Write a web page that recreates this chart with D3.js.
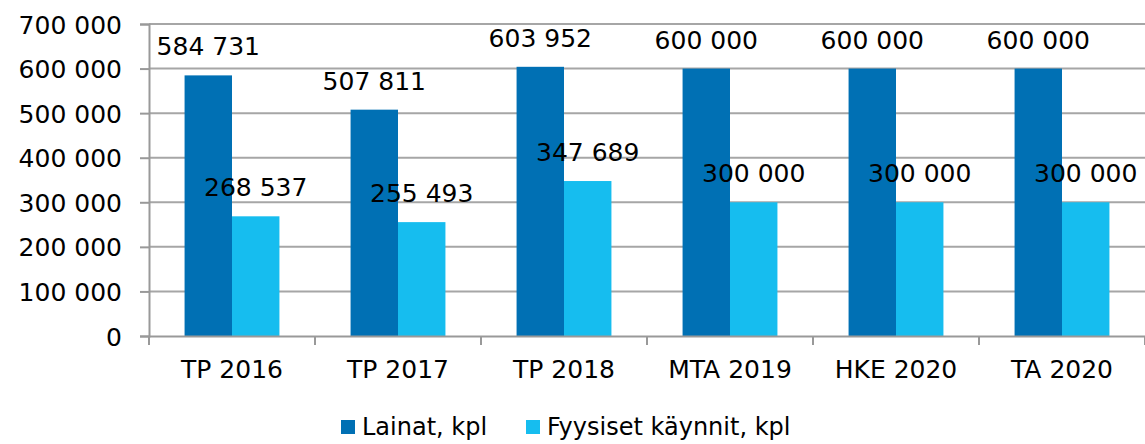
<!DOCTYPE html>
<html>
<head>
<meta charset="utf-8">
<script src="https://cdn.jsdelivr.net/npm/d3@7"></script>
<style>
  body { margin: 0; background: #fff; }
  svg text { font-family: "DejaVu Sans", sans-serif; fill: #000; }
</style>
</head>
<body>
<svg id="chart" width="1145" height="444"></svg>
<script>
const categories = ["TP 2016", "TP 2017", "TP 2018", "MTA 2019", "HKE 2020", "TA 2020"];
const seriesNames = ["Lainat, kpl", "Fyysiset käynnit, kpl"];
const lainat = [584731, 507811, 603952, 600000, 600000, 600000];
const kaynnit = [268537, 255493, 347689, 300000, 300000, 300000];
const yTicks = [0, 100000, 200000, 300000, 400000, 500000, 600000, 700000];
const colors = ["#0070b4", "#16bdef"];

const fmt = v => d3.format(",")(v).replace(/,/g, " ");

const svg = d3.select("#chart");
const plotLeft = 149, plotRight = 1145, plotTop = 24, plotBottom = 336;

const x = d3.scaleBand().domain(categories).range([plotLeft, plotRight]).paddingInner(0).paddingOuter(0);
const x1 = d3.scaleBand().domain(seriesNames).range([0, x.bandwidth()]).paddingInner(0).paddingOuter(0.75);
const y = d3.scaleLinear().domain([0, 700000]).range([plotBottom, plotTop]);

// gridlines
svg.append("g")
  .selectAll("line")
  .data(yTicks.slice(1))
  .enter()
  .append("line")
  .attr("x1", plotLeft)
  .attr("x2", plotRight)
  .attr("y1", d => y(d))
  .attr("y2", d => y(d))
  .attr("stroke", "#a6a6a6")
  .attr("stroke-width", 2);

// y axis
const yAxis = svg.append("g")
  .attr("transform", `translate(${plotLeft},0)`)
  .call(d3.axisLeft(y).tickValues(yTicks).tickFormat(fmt).tickSize(9).tickPadding(18));
yAxis.select(".domain").attr("stroke", "#999").attr("stroke-width", 2);
yAxis.selectAll(".tick line").attr("stroke", "#999").attr("stroke-width", 2);
yAxis.selectAll("text").attr("font-size", "25px").attr("font-family", "DejaVu Sans").attr("dy", "0.36em");

const data = categories.map((c, i) => ({ cat: c, vals: [lainat[i], kaynnit[i]] }));

// bars
const groups = svg.append("g")
  .selectAll("g")
  .data(data)
  .enter()
  .append("g")
  .attr("transform", d => `translate(${x(d.cat)},0)`);

groups.selectAll("rect")
  .data(d => d.vals.map((v, j) => ({ name: seriesNames[j], v, j })))
  .enter()
  .append("rect")
  .attr("x", d => x1(d.name))
  .attr("width", x1.bandwidth())
  .attr("y", d => y(d.v))
  .attr("height", d => plotBottom - y(d.v))
  .attr("fill", d => colors[d.j]);

groups.selectAll("text")
  .data(d => d.vals.map((v, j) => ({ name: seriesNames[j], v, j })))
  .enter()
  .append("text")
  .attr("x", d => x1(d.name) + x1.bandwidth() / 2)
  .attr("y", d => y(d.v) - 20)
  .attr("text-anchor", "middle")
  .attr("font-size", "25px")
  .text(d => fmt(d.v));

// x axis
const xAxis = svg.append("g")
  .attr("transform", `translate(0,${plotBottom})`)
  .call(d3.axisBottom(x).tickSize(0).tickPadding(0));
xAxis.select(".domain").attr("stroke", "#999").attr("stroke-width", 2);
xAxis.selectAll("text").attr("font-size", "25px").attr("font-family", "DejaVu Sans").attr("dy", 0).attr("y", 42);
// category separators
svg.append("g")
  .selectAll("line")
  .data(d3.range(categories.length + 1))
  .enter()
  .append("line")
  .attr("x1", i => plotLeft + i * x.bandwidth())
  .attr("x2", i => plotLeft + i * x.bandwidth())
  .attr("y1", plotBottom)
  .attr("y2", plotBottom + 9)
  .attr("stroke", "#999")
  .attr("stroke-width", 2);

// legend
const legendX = [341, 526];
const legend = svg.append("g")
  .selectAll("g")
  .data(seriesNames)
  .enter()
  .append("g")
  .attr("transform", (d, i) => `translate(${legendX[i]},420)`);
legend.append("rect")
  .attr("width", 14)
  .attr("height", 14)
  .attr("fill", (d, i) => colors[i]);
legend.append("text")
  .attr("x", 21)
  .attr("y", 15)
  .attr("font-size", "24px")
  .text(d => d);
</script>
</body>
</html>
